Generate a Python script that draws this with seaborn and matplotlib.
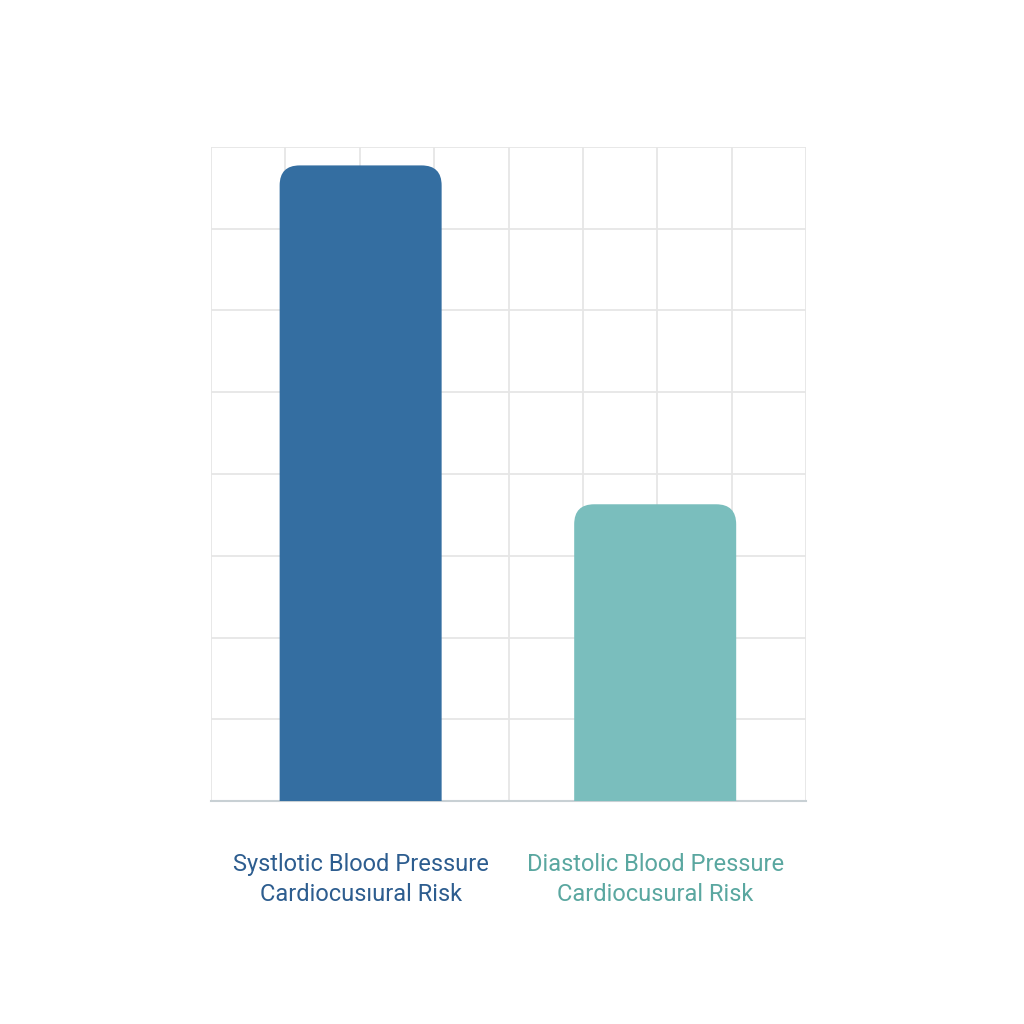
import numpy as np
import pandas as pd
import matplotlib
matplotlib.use("Agg")
import matplotlib.pyplot as plt
import seaborn as sns
from matplotlib.patches import FancyBboxPatch

# data
categories = ["Systlotic Blood Pressure\nCardiocusıural Risk", "Diastolic Blood Pressure\nCardiocusural Risk"]
values = [155.5, 72.6]
colors = ["#346ea1", "#7abebd"]
label_colors = ["#2d5d8f", "#5aa7a0"]

df = pd.DataFrame({"cat": categories, "val": values})

sns.set_theme(style="white")
plt.rcParams["font.family"] = ["Roboto", "DejaVu Sans"]

fig = plt.figure(figsize=(10.24, 10.24), dpi=100)
ax = fig.add_axes([211 / 1024, 1 - 801 / 1024, 595 / 1024, 654 / 1024])
sns.barplot(data=df, x="cat", y="val", palette=colors, hue="cat", legend=False,
            width=0.55, ax=ax)

ax.set_xlim(-0.508, 1.508)
ax.set_ylim(0, 160)

# replace plain bars by rounded ones
for p, c in zip(list(ax.patches), colors):
    x, w, h = p.get_x(), p.get_width(), p.get_height()
    p.remove()
    r = 0.068
    fb = FancyBboxPatch((x + r, -20), w - 2 * r, h + 20 - 4.9,
                        boxstyle=f"round,pad={r},rounding_size={r}",
                        mutation_aspect=72, facecolor=c, edgecolor="none", zorder=3)
    fb.set_clip_on(True)
    ax.add_patch(fb)

ax.set_xticks(np.arange(-0.508, 1.52, 0.2525))
ax.set_yticks(np.arange(0, 161, 20))
ax.tick_params(length=0, labelbottom=False, labelleft=False)
ax.grid(True, color="#e6e6e6", linewidth=1.3, zorder=0)
ax.set_axisbelow(True)
for s in ["top", "right", "left"]:
    ax.spines[s].set_visible(False)
ax.spines["bottom"].set_color("#c8d0d4")
ax.spines["bottom"].set_linewidth(1.5)
ax.set_xlabel("")
ax.set_ylabel("")

for i, (lab, lc) in enumerate(zip(categories, label_colors)):
    ax.text(i, -0.08, lab, transform=ax.get_xaxis_transform(), ha="center", va="top",
            fontsize=17, color=lc, linespacing=1.35)

fig.savefig("out.png", dpi=100, facecolor="white")
